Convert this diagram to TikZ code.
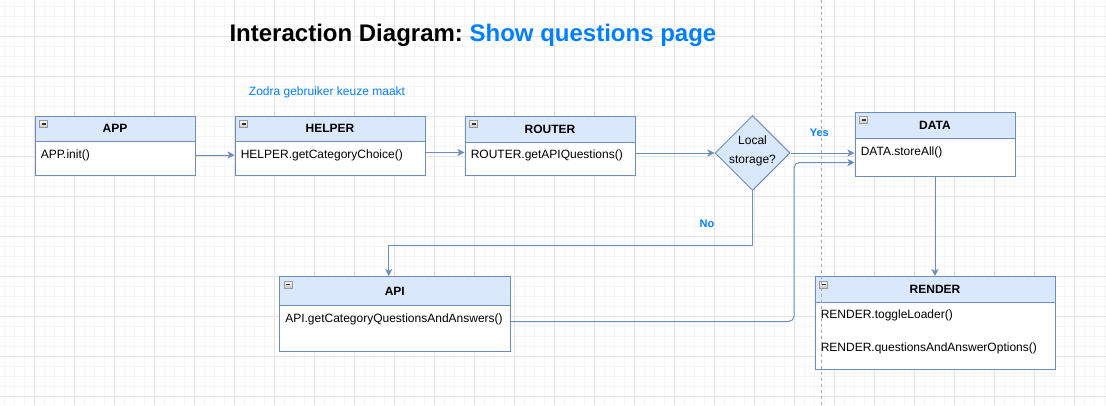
\documentclass[tikz,border=0pt]{standalone}
\usepackage{fontspec}
\setmainfont{Liberation Sans}
\usetikzlibrary{shapes.geometric,arrows.meta,calc}
\definecolor{hd}{HTML}{DAE8FC}
\definecolor{bd}{HTML}{6C8EBF}
\definecolor{tblue}{HTML}{007FFF}
\definecolor{gmajc}{HTML}{E3E3E3}
\definecolor{gminc}{HTML}{F5F5F5}
\definecolor{dashc}{HTML}{A8A8A8}
\newcommand\fsn{\fontsize{9}{10.8}\selectfont}
\newcommand\fsl{\fontsize{8.25}{9.9}\selectfont}
\newcommand\classbox[7]{%
  \node[bdy, minimum width=#4*0.75pt, minimum height=#6*0.75pt] (#1) at (#2,#3+#5) {};
  \node[hdr, minimum width=#4*0.75pt, minimum height=#5*0.75pt] (#1h) at (#2,#3) {#7};
  \draw[iconst] (#2+5,#3+5) rectangle ++(8,7);
  \draw[iconbar] (#2+7,#3+8.5) -- ++(4,0);
}
\frenchspacing
\begin{document}
\begin{tikzpicture}[x=0.75pt,y=-0.75pt,
  gmin/.style={draw=gminc,line width=0.75pt},
  gmaj/.style={draw=gmajc,line width=0.75pt},
  hdr/.style={draw=bd,fill=hd,line width=0.75pt,anchor=north west,inner sep=0,font=\fsn\bfseries},
  bdy/.style={draw=bd,fill=white,line width=0.75pt,anchor=north west,inner sep=0},
  mtxt/.style={anchor=west,font=\fsn,inner sep=0},
  lbl/.style={font=\fsl\bfseries,text=tblue,inner sep=0},
  iconst/.style={draw=gray!80,top color=white,bottom color=gray!45,line width=0.5pt},
  iconbar/.style={draw=black!80,line width=0.9pt},
  conn/.style={draw=bd,line width=0.75pt,-{Stealth[length=5.3pt,width=5.3pt,inset=1.4pt]}},
]
\useasboundingbox (0,0) rectangle (1106,405);
\fill[white] (0,0) rectangle (1106,405);
% grid
\foreach \i in {0,...,110} \draw[gmin] (4.5+10*\i,0) -- (4.5+10*\i,405);
\foreach \j in {0,...,39} \draw[gmin] (0,6+10*\j) -- (1106,6+10*\j);
\foreach \i in {0,...,26} \draw[gmaj] (34.5+40*\i,0) -- (34.5+40*\i,405);
\foreach \j in {0,...,9} \draw[gmaj] (0,36+40*\j) -- (1106,36+40*\j);

% title
\node[anchor=base west,inner sep=0,font=\fontsize{18}{21.6}\selectfont\bfseries] (title) at (229.3,41.7)
  {Interaction Diagram: \textcolor{tblue}{Show questions page}};
\node[font=\fsn,text=tblue,inner sep=0] (zodra) at (327,92.3) {Zodra gebruiker keuze maakt};

% boxes
\classbox{app}{34.5}{115.5}{160}{25.5}{34}{APP}
\classbox{helper}{234.5}{115.5}{190}{25.5}{34}{HELPER}
\classbox{router}{464.5}{115.5}{170}{26}{33.5}{ROUTER}
\classbox{data}{854.5}{111.5}{160}{26}{38}{DATA}
\classbox{api}{279}{276}{230.5}{29}{46}{API}
\classbox{render}{814.5}{276}{240}{26}{67}{RENDER}

\node[mtxt] (appt) at (40.5,155) {APP.init()};
\node[mtxt] (helpert) at (240.5,155) {HELPER.getCategoryChoice()};
\node[mtxt] (routert) at (470.5,155) {ROUTER.getAPIQuestions()};
\node[mtxt] (datat) at (860.5,152) {DATA.storeAll()};
\node[mtxt] (apit) at (285,319) {API.getCategoryQuestionsAndAnswers()};
\node[mtxt] (rendert1) at (820.5,315) {RENDER.toggleLoader()};
\node[mtxt] (rendert2) at (820.5,348) {RENDER.questionsAndAnswerOptions()};

% decision
\node[diamond,draw=bd,fill=hd,line width=0.75pt,inner sep=0,aspect=1,
      minimum width=75*0.75pt,minimum height=75*0.75pt] (ls) at (752.5,153) {};
\node[anchor=base,font=\fsn,inner sep=0] (ls1) at (752.5,144.3) {Local};
\node[anchor=base,font=\fsn,inner sep=0] (ls2) at (752.5,163.3) {storage?};

% labels
\node[lbl] (yes) at (819.3,133) {Yes};
\node[lbl] (no) at (707,224) {No};

% connectors
\draw[conn] (app.east |- appt) -- (helper.west |- appt);
\draw[conn] (helper.east |- 0,152.5) -- (router.west |- 0,152.5);
\draw[conn] (router.east |- ls.west) -- (ls.west);
\draw[conn] (ls.east) -- (data.west |- ls.east);
\draw[conn] (ls.south) -- (ls.south |- 0,245) -| ([xshift=-4.5pt]apih.north);
\draw[conn,rounded corners=4pt] (api.east |- 0,321.5) -| (794,162.5) -- (data.west |- 0,162.5);
\draw[conn] (data.south) -- (renderh.north);

% dashed guide
\draw[dashc,line width=0.75pt,dash pattern=on 2.25pt off 2.25pt] (821.7,0) -- (821.7,405);
\end{tikzpicture}
\end{document}
